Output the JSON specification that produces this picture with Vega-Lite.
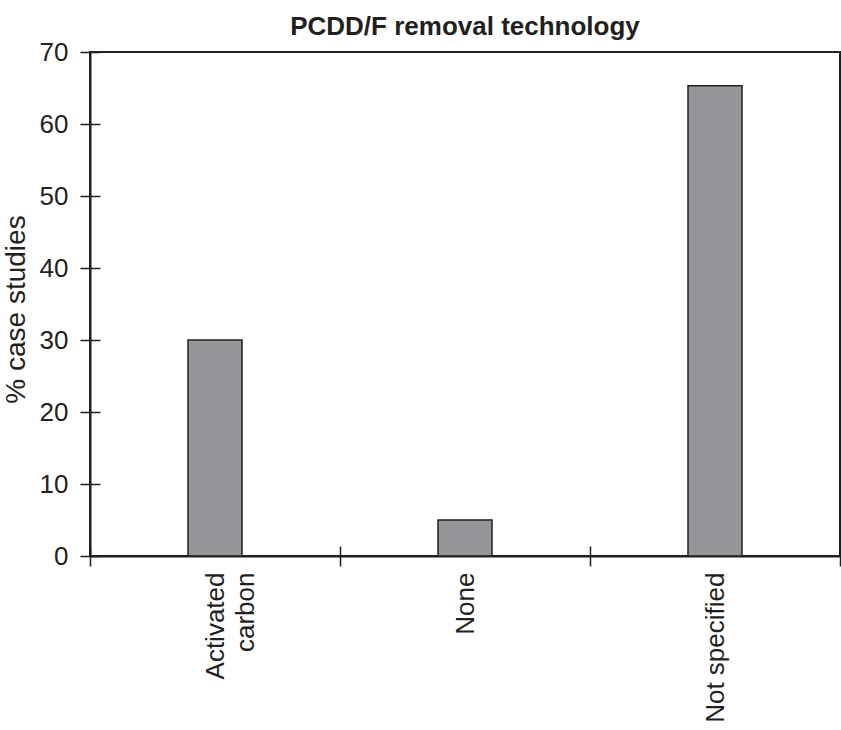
{
  "$schema": "https://vega.github.io/schema/vega-lite/v6.json",
  "width": 750,
  "height": 504,
  "autosize": {"type": "none"},
  "padding": {"left": 90, "top": 52, "right": 1, "bottom": 174},
  "background": "white",
  "title": {
    "text": "PCDD/F removal technology",
    "fontSize": 26,
    "fontWeight": "bold",
    "font": "Liberation Sans",
    "color": "#231f20",
    "anchor": "middle",
    "offset": -1
  },
  "data": {
    "values": [
      {"technology": "Activated carbon", "percent": 30},
      {"technology": "None", "percent": 5},
      {"technology": "Not specified", "percent": 65.3}
    ]
  },
  "layer": [
    {
      "mark": {
        "type": "bar",
        "fill": "#939598",
        "stroke": "#231f20",
        "strokeWidth": 1.5,
        "width": {"band": 0.216}
      },
      "encoding": {
        "x": {
          "field": "technology",
          "type": "nominal",
          "sort": null,
          "scale": {"paddingInner": 0, "paddingOuter": 0},
          "axis": {
            "orient": "bottom",
            "title": null,
            "tickBand": "extent",
            "labelAngle": -90,
            "labelAlign": "right",
            "labelBaseline": "middle",
            "labelFontSize": 26,
            "labelLineHeight": 30,
            "labelPadding": 6,
            "labelColor": "#231f20",
            "labelFont": "Liberation Sans",
            "tickSize": 10,
            "tickColor": "#231f20",
            "tickWidth": 1.5,
            "domainColor": "#231f20",
            "domainWidth": 2,
            "labelExpr": "datum.value == 'Activated carbon' ? ['Activated', 'carbon\u00a0\u00a0'] : datum.value"
          }
        },
        "y": {
          "field": "percent",
          "type": "quantitative",
          "scale": {"domain": [0, 70], "nice": false},
          "axis": {
            "orient": "left",
            "title": "% case studies",
            "values": [0, 10, 20, 30, 40, 50, 60, 70],
            "grid": false,
            "labelFontSize": 26,
            "labelPadding": 12,
            "labelColor": "#231f20",
            "labelFont": "Liberation Sans",
            "tickSize": 10,
            "tickColor": "#231f20",
            "tickWidth": 1.5,
            "domainColor": "#231f20",
            "domainWidth": 2,
            "titleFontSize": 28,
            "titleFontWeight": "normal",
            "titleFont": "Liberation Sans",
            "titleColor": "#231f20",
            "titleAngle": -90,
            "titleAlign": "center",
            "titleBaseline": "alphabetic",
            "titleX": -66,
            "titleY": 257
          }
        }
      }
    },
    {
      "mark": {"type": "bar", "opacity": 0, "width": {"band": 0.216}},
      "encoding": {
        "x": {
          "field": "technology",
          "type": "nominal",
          "sort": null,
          "axis": {
            "orient": "bottom",
            "offset": -10,
            "title": null,
            "tickBand": "extent",
            "labels": false,
            "domain": false,
            "tickSize": 10,
            "tickColor": "#231f20",
            "tickWidth": 1.5
          }
        },
        "y": {
          "field": "percent",
          "type": "quantitative",
          "axis": {
            "orient": "left",
            "offset": -10,
            "title": null,
            "values": [0, 10, 20, 30, 40, 50, 60, 70],
            "grid": false,
            "labels": false,
            "domain": false,
            "tickSize": 10,
            "tickColor": "#231f20",
            "tickWidth": 1.5
          }
        }
      }
    }
  ],
  "resolve": {"axis": {"x": "independent", "y": "independent"}},
  "config": {
    "view": {"stroke": "#231f20", "strokeWidth": 2},
    "font": "Liberation Sans"
  }
}
